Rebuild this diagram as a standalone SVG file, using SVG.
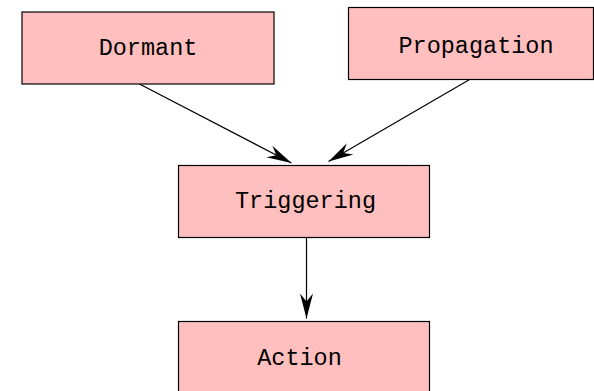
<svg xmlns="http://www.w3.org/2000/svg" width="594" height="391" viewBox="0 0 594 391">
<defs>
<style>
.box{fill:#ffbfbf;stroke:#000;stroke-width:1.2}
.lbl{font-family:"Liberation Mono","Courier New",monospace;font-size:23.5px;fill:#000;text-anchor:middle}
.edge{stroke:#000;stroke-width:1.2;fill:none;marker-end:url(#ah)}
</style>
<marker id="ah" markerUnits="userSpaceOnUse" markerWidth="30" markerHeight="16" viewBox="-26 -8 28 16" refX="0" refY="0" orient="auto">
<path d="M0,0 L-25,-6.5 L-17,0 L-25,6.5 Z" fill="#000"/>
</marker>
</defs>
<rect width="594" height="391" fill="#fff"/>
<g id="connectors">
<line class="edge" x1="139.5" y1="84" x2="291.5" y2="163"/>
<line class="edge" x1="470.5" y1="79" x2="328.5" y2="161.5"/>
<line class="edge" x1="306.5" y1="237.5" x2="306.5" y2="318.5"/>
</g>
<g id="dormant">
<rect class="box" x="22" y="12" width="252" height="72"/>
<text class="lbl" x="148" y="55">Dormant</text>
</g>
<g id="propagation">
<rect class="box" x="348.5" y="7.5" width="245" height="72"/>
<text class="lbl" x="476" y="52.5">Propagation</text>
</g>
<g id="triggering">
<rect class="box" x="178.5" y="165.5" width="251" height="72"/>
<text class="lbl" x="305.5" y="207.5">Triggering</text>
</g>
<g id="action">
<rect class="box" x="178.5" y="321.5" width="251" height="72"/>
<text class="lbl" x="299.5" y="365">Action</text>
</g>
</svg>
